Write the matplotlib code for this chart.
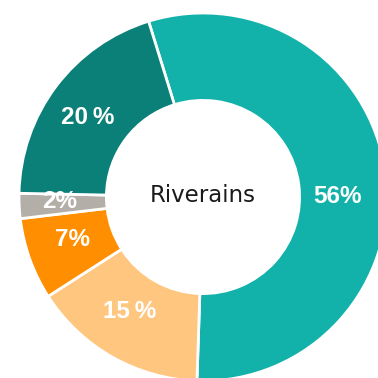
import matplotlib
matplotlib.use("Agg")
import matplotlib.pyplot as plt
import numpy as np

categories = ["A", "B", "C", "D", "E"]
values = [55.3, 15.4, 7.2, 2.2, 19.9]
labels = ["56%", "15\u2009%", "7%", "2%", "20\u2009%"]
colors = ["#12B2AA", "#FFC680", "#FF8F00", "#B4AEA8", "#0A8079"]
center_title = "Riverains"

# label placement tweaks (angle offset deg, radius)
label_dang = [-7.5, -2.8, -1.7, -1.0, 2.5]
label_r = [0.73, 0.74, 0.745, 0.777, 0.759]

fig = plt.figure(figsize=(3.78, 3.78), dpi=100)
cx, cy, R = 203 / 378, 1 - 197 / 378, 184 / 378
ax = fig.add_axes([cx - R, cy - R, 2 * R, 2 * R])
ax.set_xlim(-1, 1)
ax.set_ylim(-1, 1)
ax.set_aspect("equal")
ax.axis("off")

start = 90 + 17.2
wedges, _ = ax.pie(values, colors=colors, startangle=start, counterclock=False,
                   radius=1, wedgeprops=dict(width=0.475, edgecolor="white", linewidth=2),
                   frame=False)
ax.set_xlim(-1, 1)
ax.set_ylim(-1, 1)

total = sum(values)
ang = start
for i, v in enumerate(values):
    span = 360 * v / total
    mid = ang - span / 2 + label_dang[i]
    ang -= span
    x = label_r[i] * np.cos(np.radians(mid))
    y = label_r[i] * np.sin(np.radians(mid))
    ax.text(x, y, labels[i], ha="center", va="center", color="white",
            fontsize=17.5, fontweight="bold", family=["Liberation Sans", "DejaVu Sans"])

ax.text(0.0, 0.01, center_title, ha="center", va="center", color="#1a1a1a",
        fontsize=16.5, family=["DejaVu Sans"])

fig.savefig("out.png", dpi=100)
